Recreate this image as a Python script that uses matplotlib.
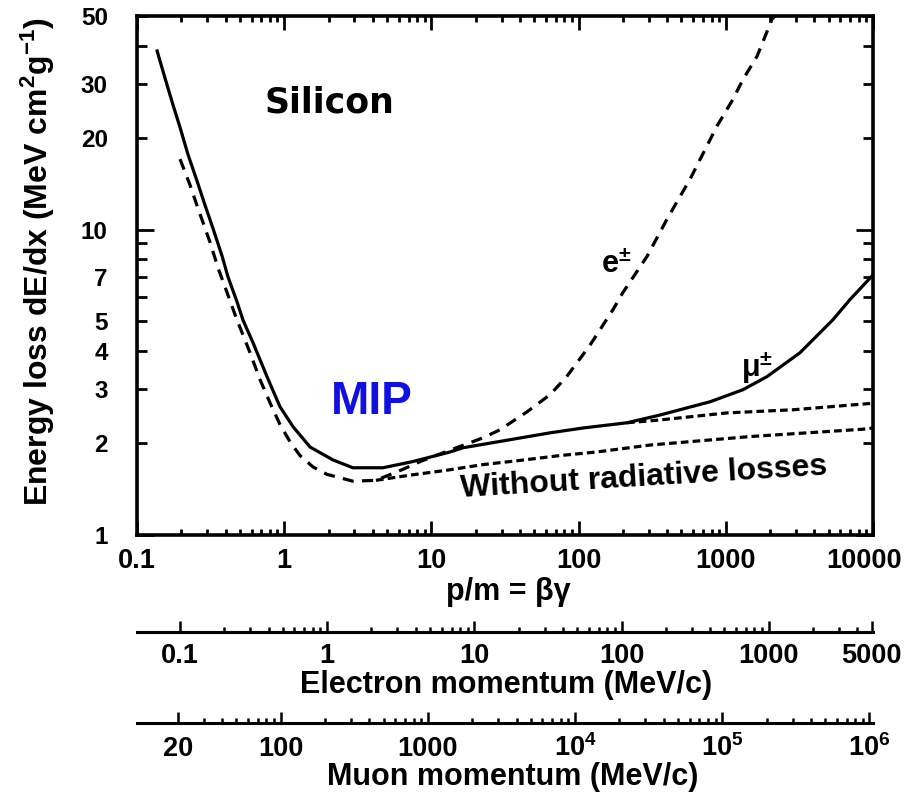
import numpy as np
import matplotlib.pyplot as plt
from matplotlib.ticker import FixedLocator, FixedFormatter, LogLocator, FuncFormatter, NullFormatter
from matplotlib.transforms import ScaledTranslation

# 字体：粗体无衬线，尽量贴近原图
plt.rcParams['font.family'] = ['Liberation Sans', 'DejaVu Sans']
plt.rcParams['font.weight'] = 'bold'
plt.rcParams['axes.labelweight'] = 'bold'
plt.rcParams['mathtext.fontset'] = 'custom'
plt.rcParams['mathtext.rm'] = 'Liberation Sans:bold'
plt.rcParams['mathtext.it'] = 'Liberation Sans:italic:bold'
plt.rcParams['mathtext.bf'] = 'Liberation Sans:bold'
plt.rcParams['mathtext.default'] = 'rm'

M_E = 0.511      # MeV/c^2
M_MU = 105.66

# ===== data =====
# mu+- , solid
mu_bg = [0.137, 0.155, 0.176, 0.196, 0.222, 0.256, 0.290, 0.328, 0.378, 0.415, 0.478,
         0.525, 0.614, 0.764, 0.936, 1.15, 1.50, 2.15, 2.93, 4.69, 7.5, 13.4, 16.4,
         64, 107, 213, 357, 782, 1309, 1905, 3190, 5350, 6980, 10000]
mu_dedx = [38.4, 31.3, 25.5, 21.6, 17.6, 14.4, 12.0, 10.1, 8.2, 7.0, 5.8,
           5.05, 4.26, 3.30, 2.63, 2.26, 1.94, 1.76, 1.66, 1.66, 1.74, 1.87, 1.93,
           2.16, 2.24, 2.33, 2.47, 2.73, 2.99, 3.30, 3.95, 5.07, 5.9, 7.1]

# e+- , dashed (with radiative losses)
e_bg = [0.196, 0.229, 0.260, 0.313, 0.355, 0.415, 0.471, 0.586, 0.686, 0.801, 0.936,
        1.095, 1.28, 1.57, 1.95, 2.93, 4.2, 6.4, 8.4, 12.8, 22.4, 29.2, 44.6, 64, 83,
        119, 171, 200, 291, 398, 571, 871, 1119, 1309, 1630, 2060, 2160]
e_dedx = [17.0, 14.0, 11.7, 9.1, 7.5, 6.1, 5.15, 3.95, 3.22, 2.71, 2.30,
          2.02, 1.82, 1.67, 1.58, 1.50, 1.51, 1.64, 1.74, 1.88, 2.08, 2.21, 2.53, 2.88, 3.30,
          4.17, 5.46, 6.22, 8.15, 10.8, 14.6, 21.8, 26.7, 31.0, 36.9, 48.8, 50.0]

# without radiative losses (electron / muon)
e_norad_bg = [4.2, 7.16, 12.8, 22.4, 38.2, 74.8, 133, 306, 1459, 8550, 10000]
e_norad_dedx = [1.51, 1.57, 1.63, 1.70, 1.75, 1.82, 1.87, 1.97, 2.10, 2.22, 2.24]
mu_norad_bg = [213, 357, 1019, 2864, 9120, 10000]
mu_norad_dedx = [2.33, 2.38, 2.51, 2.57, 2.69, 2.70]

y_labels = [1, 2, 3, 4, 5, 7, 10, 20, 30, 50]
x_ticks = [0.1, 1, 10, 100, 1000, 10000]
e_ticks = [0.1, 1, 10, 100, 1000, 5000]
e_labels = ['0.1', '1', '10', '100', '1000', '5000']
mu_ticks = [20, 100, 1000, 1e4, 1e5, 1e6]
mu_labels = ['20', '100', '1000', r'$\mathbf{10^4}$', r'$\mathbf{10^5}$', r'$\mathbf{10^6}$']

W, H = 907, 794
fig = plt.figure(figsize=(W / 100, H / 100), dpi=100)
L, R, T, B = 137, 873, 16, 535
ax = fig.add_axes([L / W, 1 - B / H, (R - L) / W, (B - T) / H])

ax.plot(mu_bg, mu_dedx, color='black', lw=2.3)
ax.plot(e_bg, e_dedx, color='black', lw=2.3, dashes=(3.5, 2.6))
ax.plot(e_norad_bg, e_norad_dedx, color='black', lw=2.3, dashes=(2.4, 1.3))
ax.plot(mu_norad_bg, mu_norad_dedx, color='black', lw=2.3, dashes=(2.4, 1.3))

ax.set_xscale('log')
ax.set_yscale('log')
ax.set_xlim(0.1, 10000)
ax.set_ylim(1, 50)

ax.xaxis.set_major_locator(FixedLocator(x_ticks))
ax.xaxis.set_major_formatter(FuncFormatter(lambda v, p: f'{v:g}'))
ax.xaxis.set_minor_locator(LogLocator(base=10, subs=np.arange(2, 10), numticks=30))
ax.xaxis.set_minor_formatter(NullFormatter())

ylab_fmt = FuncFormatter(lambda v, p: f'{v:g}' if int(round(v)) in y_labels else '')
ax.yaxis.set_major_locator(FixedLocator([1, 10]))
ax.yaxis.set_minor_locator(FixedLocator([2, 3, 4, 5, 6, 7, 8, 9, 20, 30, 40, 50]))
ax.yaxis.set_major_formatter(ylab_fmt)
ax.yaxis.set_minor_formatter(ylab_fmt)

ax.tick_params(which='both', direction='in', top=True, right=True, width=2)
ax.tick_params(axis='x', which='both', labelsize=19.5, pad=9)
ax.tick_params(axis='x', which='major', length=10)
ax.tick_params(axis='x', which='minor', length=4.5)
ax.tick_params(axis='y', which='both', labelsize=17.5, pad=21)
ax.tick_params(axis='y', which='major', length=12)
ax.tick_params(axis='y', which='minor', length=7.5)
for s in ax.spines.values():
    s.set_linewidth(2.6)

# 最右边的 "10000" 稍微左移，避免被图边裁掉
last = ax.xaxis.get_majorticklabels()[-1]
last.set_transform(last.get_transform() + ScaledTranslation(-0.09, 0, fig.dpi_scale_trans))

ax.set_ylabel(r'Energy loss dE/dx (MeV cm$^{2}$g$^{-1}$)', fontsize=23)
ax.yaxis.set_label_coords(-0.109, 0.526)

ax.text(0.262, 0.834, 'Silicon', transform=ax.transAxes, fontsize=25,
        family='DejaVu Sans', fontweight='bold', ha='center', va='center')
ax.text(0.319, 0.256, 'MIP', transform=ax.transAxes, fontsize=33, color='#1010E0',
        ha='center', va='center')
ax.text(0.651, 0.520, r'e$^{\pm}$', transform=ax.transAxes, fontsize=22,
        ha='center', va='center')
ax.text(0.842, 0.322, r'μ$^{\pm}$', transform=ax.transAxes, fontsize=22,
        ha='center', va='center')
ax.text(0.689, 0.110, 'Without radiative losses', transform=ax.transAxes, fontsize=23,
        ha='center', va='center', rotation=3.5, rotation_mode='anchor')

fig.text(508 / W, 1 - 592 / H, 'p/m = βγ', fontsize=22, ha='center', va='center')


def momentum_axis(ypix, mass, ticks, labels, pad):
    axm = fig.add_axes([L / W, 1 - ypix / H, (R - L) / W, 1e-4])
    axm.set_xscale('log')
    axm.set_xlim(0.1 * mass, 10000 * mass)
    axm.patch.set_visible(False)
    axm.yaxis.set_visible(False)
    for s in ['top', 'left', 'right']:
        axm.spines[s].set_visible(False)
    axm.spines['bottom'].set_linewidth(2.2)
    axm.xaxis.set_major_locator(FixedLocator(ticks))
    axm.xaxis.set_major_formatter(FixedFormatter(labels))
    minors = [m * 10.0 ** k for k in range(-1, 7) for m in range(2, 10)]
    minors = [v for v in minors if ticks[0] <= v <= 10000 * mass]
    axm.xaxis.set_minor_locator(FixedLocator(minors))
    axm.xaxis.set_minor_formatter(NullFormatter())
    axm.tick_params(which='both', direction='in', width=1.8, labelsize=19.5, pad=pad)
    axm.tick_params(which='major', length=8)
    axm.tick_params(which='minor', length=3.5)
    # 数字基线对齐（10^4 等带上标的标签也一样）
    for lab in axm.get_xticklabels():
        lab.set_verticalalignment('baseline')
    return axm


momentum_axis(632, M_E, e_ticks, e_labels, 22)
fig.text(506 / W, 1 - 685 / H, 'Electron momentum (MeV/c)', fontsize=22,
         ha='center', va='center')
momentum_axis(723, M_MU, mu_ticks, mu_labels, 24)
fig.text(513 / W, 1 - 777 / H, 'Muon momentum (MeV/c)', fontsize=22,
         ha='center', va='center')

plt.savefig('out.png', dpi=100, facecolor='white')
plt.close()
